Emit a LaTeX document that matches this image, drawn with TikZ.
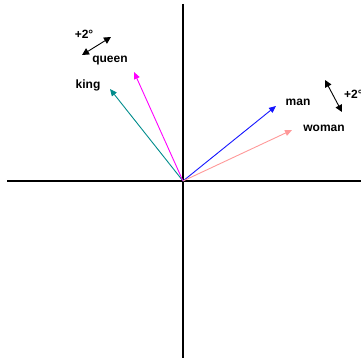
\documentclass[tikz,border=0pt]{standalone}
\usepackage{fontspec}
\setmainfont{Liberation Sans}
\usetikzlibrary{arrows.meta}
\begin{document}
\begin{tikzpicture}[x=1pt,y=-1pt,
  axisline/.style={line width=1.3pt,black},
  vec/.style={line width=0.9pt,-{Triangle[length=7pt,width=6pt]}},
  rot/.style={line width=0.9pt,black,{Triangle[length=7pt,width=7pt]}-{Triangle[length=7pt,width=7pt]}},
  lbl/.style={font=\bfseries\fontsize{12}{13}\selectfont,inner sep=0pt}]
\useasboundingbox (0,0) rectangle (361,358);
\clip (0,0) rectangle (361,358);
\definecolor{teal2}{RGB}{0,140,140}
\definecolor{pink2}{RGB}{255,153,153}
\definecolor{blue2}{RGB}{20,20,255}
\definecolor{mag2}{RGB}{255,0,255}
\coordinate (O) at (183,181);
\coordinate (xl) at (7,181);
\coordinate (xr) at (361,181);
\coordinate (yt) at (183,4);
\coordinate (yb) at (183,358);
\draw[axisline] (xl) -- (xr);
\draw[axisline] (yt) -- (yb);
\coordinate (kingtip) at (110,89);
\coordinate (queentip) at (134,72);
\coordinate (mantip) at (276,106);
\coordinate (womantip) at (292,130);
\draw[vec,teal2] (O) -- (kingtip);
\draw[vec,mag2] (O) -- (queentip);
\draw[vec,blue2] (O) -- (mantip);
\draw[vec,pink2] (O) -- (womantip);
\node[lbl] (king) at (88,85) {king};
\node[lbl] (queen) at (110,61) {queen};
\node[lbl] (man) at (298,102) {man};
\node[lbl] (woman) at (324,128) {woman};
\node[lbl] (rotL) at (84,34) {+2°};
\node[lbl,anchor=west] (rotR) at (344,94) {+2°};
\coordinate (rl1) at (82,55);
\coordinate (rl2) at (111,37);
\coordinate (rr1) at (325,80);
\coordinate (rr2) at (342,112);
\draw[rot] (rl1) -- (rl2);
\draw[rot] (rr1) -- (rr2);
\end{tikzpicture}
\end{document}
